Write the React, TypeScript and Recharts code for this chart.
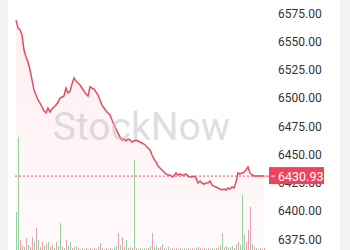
import React from "react";
import {
  ComposedChart,
  Area,
  Line,
  Bar,
  Cell,
  XAxis,
  YAxis,
  ReferenceLine,
} from "recharts";

// close prices, one per bar, left to right
const prices = [
  6569.0, 6562.0, 6560.2, 6555.8, 6542.5, 6536.3, 6531.9, 6524.8, 6516.0, 6507.1,
  6502.7, 6498.3, 6495.6, 6492.1, 6488.6, 6486.8, 6491.2, 6487.7, 6490.3, 6492.1,
  6493.8, 6496.5, 6500.0, 6500.9, 6501.8, 6508.9, 6504.5, 6506.2, 6512.4, 6517.7,
  6515.0, 6513.3, 6511.5, 6508.9, 6506.2, 6503.6, 6501.8, 6509.8, 6508.9, 6508.0,
  6505.3, 6502.7, 6498.3, 6493.8, 6491.2, 6488.6, 6486.8, 6485.0, 6480.6, 6476.1,
  6472.6, 6469.0, 6465.5, 6462.9, 6463.7, 6462.0, 6463.7, 6462.9, 6461.1, 6462.0,
  6462.9, 6462.0, 6461.1, 6460.2, 6459.3, 6457.6, 6455.8, 6454.0, 6449.6, 6446.1,
  6443.4, 6439.9, 6438.1, 6436.3, 6434.5, 6432.8, 6431.9, 6431.9, 6430.2, 6431.0,
  6433.7, 6431.9, 6432.8, 6431.9, 6431.9, 6432.8, 6431.0, 6430.2, 6430.2, 6431.0,
  6429.3, 6424.8, 6426.6, 6424.8, 6423.9, 6424.8, 6424.8, 6426.6, 6423.0, 6422.1,
  6421.3, 6420.4, 6419.5, 6418.6, 6419.5, 6418.6, 6420.4, 6419.5, 6421.3, 6420.4,
  6425.7, 6433.7, 6432.8, 6433.7, 6434.5, 6436.3, 6439.0, 6433.7, 6431.9, 6431.0,
  6431.0, 6431.0, 6431.0, 6430.93, 6430.93,
];

// volume (relative units)
const volumes = [
  38, 113, 10, 4, 3, 12, 5, 3, 13, 8,
  22, 10, 3, 8, 4, 6, 8, 3, 5, 2,
  8, 4, 27, 3, 2, 10, 4, 8, 2, 3,
  4, 2, 1, 2, 1, 2, 1, 2, 1, 2,
  1, 3, 7, 2, 1, 2, 1, 2, 1, 3,
  4, 17, 5, 13, 3, 10, 2, 3, 2, 90,
  2, 1, 2, 1, 2, 1, 2, 4, 17, 3,
  4, 2, 3, 6, 2, 1, 3, 1, 2, 1,
  2, 1, 2, 1, 2, 1, 2, 1, 2, 1,
  2, 3, 2, 1, 2, 1, 2, 1, 2, 1,
  2, 3, 5, 17, 3, 4, 2, 3, 4, 2,
  6, 8, 5, 55, 15, 8, 20, 43, 6, 3,
  2, 1, 2, 1, 2,
];

// u = up bar (green), d = down bar (red)
const volumeDirs = (
  "uuddududdu" + "duddududdu" + "duududuudd" + "udduddudud" +
  "uddudduddu" + "ududdududu" + "duududdudu" + "uddudduudu" +
  "duduuddudu" + "uddududduu" + "dududuudud" + "uduuudddud" + "uddud"
).split("");

const priceTicks = [6375, 6400, 6425, 6450, 6475, 6500, 6525, 6550, 6575];
const lastPrice = 6430.93;
const watermark = "StockNow";

const RED = "#ea4a60";
const PRICE_DOMAIN: [number, number] = [6365.53, 6586.77];

const data = prices.map((price, i) => ({ i, price, volume: volumes[i] }));

const PriceTag = (props: any) => {
  const vb = props.viewBox || {};
  const right = vb.x + vb.width;
  const y = vb.y;
  return (
    <g>
      <line x1={right + 1} x2={right + 5} y1={y} y2={y} stroke={RED} strokeWidth={1} />
      <rect x={right + 4} y={y - 9} width={55} height={17} fill="#f2415b" />
      <line x1={right + 6} x2={right + 10} y1={y} y2={y} stroke="#fff" strokeWidth={1} />
      <text
        x={right + 13}
        y={y + 4.5}
        fill="#fff"
        fontSize={12.5}
        fontFamily="Roboto, sans-serif"
      >
        {lastPrice.toFixed(2)}
      </text>
    </g>
  );
};

export default function App() {
  return (
    <div
      style={{
        position: "fixed",
        left: 0,
        top: 0,
        width: 350,
        height: 250,
        background: "#fff",
        overflow: "hidden",
      }}
    >
      <div style={{ position: "absolute", left: 0, top: 0, width: 8, height: 250, background: "#f3f3f3" }} />
      <div style={{ position: "absolute", left: 340, top: 0, width: 10, height: 250, background: "#f3f3f3" }} />
      <div style={{ position: "absolute", left: 0, top: 0 }}>
        <ComposedChart
          width={350}
          height={250}
          data={data}
          margin={{ top: 0, right: 0, bottom: 0, left: 15 }}
        >
          <defs>
            <linearGradient id="areaFill" x1="0" y1="0" x2="0" y2="1">
              <stop offset="0%" stopColor="#f7a9b5" stopOpacity={0.32} />
              <stop offset="100%" stopColor="#f7a9b5" stopOpacity={0.1} />
            </linearGradient>
          </defs>
          <XAxis dataKey="i" hide />
          <YAxis
            yAxisId="price"
            orientation="right"
            width={85}
            domain={PRICE_DOMAIN}
            ticks={priceTicks}
            allowDataOverflow
            axisLine={false}
            tickLine={false}
            tickSize={0}
            tickMargin={13}
            tickFormatter={(v: number) => v.toFixed(2)}
            tick={{ fill: "#333", fontSize: 12, fontFamily: "Roboto, sans-serif", textAnchor: "start" }}
          />
          <YAxis yAxisId="vol" hide domain={[0, 250]} />
          <Area
            yAxisId="price"
            dataKey="price"
            type="linear"
            stroke="none"
            fill="url(#areaFill)"
            baseValue="dataMin"
            isAnimationActive={false}
          />
          <Bar yAxisId="vol" dataKey="volume" barSize={1} isAnimationActive={false}>
            {data.map((d, idx) => (
              <Cell key={idx} fill={volumeDirs[idx] === "u" ? "#95d2a0" : "#e9a3ae"} />
            ))}
          </Bar>
          <Line
            yAxisId="price"
            dataKey="price"
            type="linear"
            stroke={RED}
            strokeWidth={1.5}
            dot={false}
            isAnimationActive={false}
          />
          <ReferenceLine
            yAxisId="price"
            y={lastPrice}
            stroke={RED}
            strokeDasharray="2 2"
          />
        </ComposedChart>
      </div>
      <div
        style={{
          position: "absolute",
          left: 0,
          width: 283,
          top: 104,
          textAlign: "center",
          fontFamily: "Roboto, sans-serif",
          fontSize: 39,
          color: "rgba(190,190,190,0.5)",
          pointerEvents: "none",
          lineHeight: "46px",
        }}
      >
        {watermark}
      </div>
      {/* overlay chart so the last-price tag sits above the axis ticks */}
      <div style={{ position: "absolute", left: 0, top: 0, pointerEvents: "none" }}>
        <ComposedChart
          width={350}
          height={250}
          data={data}
          margin={{ top: 0, right: 85, bottom: 0, left: 15 }}
        >
          <XAxis dataKey="i" hide />
          <YAxis yAxisId="price" hide domain={PRICE_DOMAIN} allowDataOverflow />
          <ReferenceLine
            yAxisId="price"
            y={lastPrice}
            stroke="none"
            label={<PriceTag />}
          />
        </ComposedChart>
      </div>
    </div>
  );
}
